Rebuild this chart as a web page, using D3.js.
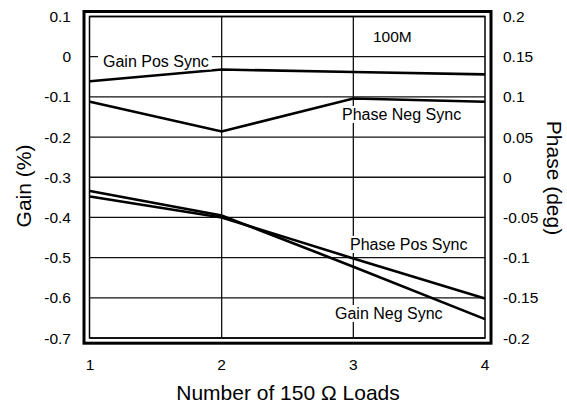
<!DOCTYPE html>
<html><head><meta charset="utf-8">
<script src="https://cdn.jsdelivr.net/npm/d3@7"></script>
<style>body{margin:0;background:#fff}svg{display:block;font-family:"Liberation Sans",Arial,Helvetica,sans-serif}</style>
</head><body><svg id="c" width="567" height="406"></svg>
<script>
const loads = [1, 2, 3, 4];
const xTicks = [1, 2, 3, 4];
const gainTicks = [0.1, 0, -0.1, -0.2, -0.3, -0.4, -0.5, -0.6, -0.7];
const phaseTicks = [0.2, 0.15, 0.1, 0.05, 0, -0.05, -0.1, -0.15, -0.2];
const gainPosSync = [-0.061, -0.032, -0.038, -0.044];
const gainNegSync = [-0.334, -0.395, -0.5225, -0.653];
const phaseNegSync = [0.094, 0.057, 0.098, 0.094];
const phasePosSync = [-0.024, -0.05, -0.101, -0.151];

const svg = d3.select("#c");
const x = d3.scaleLinear().domain([1, 4]).range([90, 485]);
const yL = d3.scaleLinear().domain([-0.7, 0.1]).range([338, 16.5]);
const yR = d3.scaleLinear().domain([-0.2, 0.2]).range([338, 16.5]);
const fmt = d => String(+d.toFixed(2));

// gridlines
svg.append("g").selectAll("line").data(gainTicks).join("line")
  .attr("x1", x(1)).attr("x2", x(4)).attr("y1", d => yL(d)).attr("y2", d => yL(d))
  .attr("stroke", "#111").attr("stroke-width", 1.3);
svg.append("g").selectAll("line").data(xTicks.slice(1, 3)).join("line")
  .attr("x1", d => x(d)).attr("x2", d => x(d)).attr("y1", yL(0.1)).attr("y2", yL(-0.7))
  .attr("stroke", "#111").attr("stroke-width", 1.3);

// inner frame
svg.append("rect").attr("x", 89.5).attr("y", 16.5).attr("width", 485 - 89.5).attr("height", 338 - 16.5)
  .attr("fill", "none").attr("stroke", "#000").attr("stroke-width", 1.5);
// outer frame
svg.append("rect").attr("x", 84).attr("y", 11.5).attr("width", 491 - 84).attr("height", 343.2 - 11.5)
  .attr("fill", "none").attr("stroke", "#000").attr("stroke-width", 3);

// series
const lineL = d3.line().x((d, i) => x(loads[i])).y(d => yL(d));
const lineR = d3.line().x((d, i) => x(loads[i])).y(d => yR(d));
[[gainPosSync, lineL], [gainNegSync, lineL], [phaseNegSync, lineR], [phasePosSync, lineR]].forEach(([s, l]) => {
  svg.append("path").attr("d", l(s)).attr("fill", "none").attr("stroke", "#000").attr("stroke-width", 2.6);
});

// labels with white backgrounds
const labels = [
  {t: "Gain Pos Sync", x: 103, y: 66.5},
  {t: "Phase Neg Sync", x: 342, y: 120},
  {t: "100M", x: 373, y: 41.5, s: 15.5},
  {t: "Phase Pos Sync", x: 350, y: 250},
  {t: "Gain Neg Sync", x: 335, y: 319}
];
const lg = svg.append("g");
labels.forEach(L => {
  const t = lg.append("text").attr("x", L.x).attr("y", L.y).attr("font-size", L.s || 16).text(L.t);
  if (L.t !== "100M") {
    const b = t.node().getBBox();
    lg.insert("rect", "text").attr("x", b.x - 5).attr("y", b.y).attr("width", b.width + 8).attr("height", b.height)
      .attr("fill", "#fff");
  }
});
lg.selectAll("text").raise();

// left axis labels
svg.append("g").selectAll("text").data(gainTicks).join("text")
  .attr("x", 71).attr("y", d => yL(d) + 5.5).attr("text-anchor", "end").attr("font-size", 15.5)
  .text(fmt);
// right axis labels
svg.append("g").selectAll("text").data(phaseTicks).join("text")
  .attr("x", 503).attr("y", d => yR(d) + 5.5).attr("text-anchor", "start").attr("font-size", 15.5)
  .text(fmt);
// x axis labels
svg.append("g").selectAll("text").data(xTicks).join("text")
  .attr("x", d => x(d)).attr("y", 370).attr("text-anchor", "middle").attr("font-size", 15.5)
  .text(d => d);

// titles
svg.append("text").attr("x", 288).attr("y", 400).attr("text-anchor", "middle").attr("font-size", 21)
  .text("Number of 150 \u03A9 Loads");
svg.append("text").attr("transform", "translate(31,186) rotate(-90)").attr("text-anchor", "middle").attr("font-size", 21)
  .text("Gain (%)");
svg.append("text").attr("transform", "translate(547,178) rotate(90)").attr("text-anchor", "middle").attr("font-size", 21)
  .text("Phase (deg)");
</script></body></html>
